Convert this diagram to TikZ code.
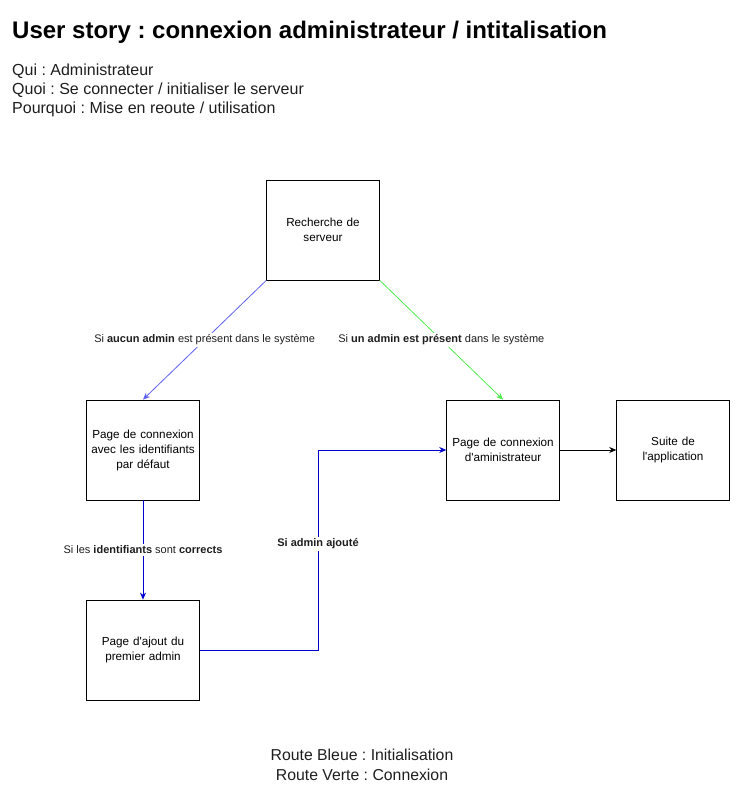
\documentclass[tikz,border=0pt]{standalone}
\usepackage{fontspec}
\setmainfont{Liberation Sans}[Ligatures=TeXOff]
\frenchspacing
\usetikzlibrary{arrows.meta,positioning}
\definecolor{routeclaire}{RGB}{96,96,240}
\definecolor{routeverte}{RGB}{80,235,80}
\definecolor{routebleue}{RGB}{0,0,204}
\definecolor{texte}{RGB}{30,30,30}
\tikzset{Story/.style = {% styles of the user story
     page/.style = {rectangle, draw, line width=0.8pt,
                    minimum width=110pt, minimum height=100pt,
                    text width=106pt, align=center,
                    font=\fontsize{11.7}{15}\selectfont},
    cond/.style  = {fill=white, inner sep=1.5pt, text=texte,
                    font=\fontsize{11}{13}\selectfont},
   arrow/.style  = {line width=0.8pt, -{Stealth[length=7pt,width=6pt]}},
    info/.style  = {anchor=north west, align=left, inner sep=0pt, text=texte,
                    font=\fontsize{16}{19}\selectfont}}
        }

\begin{document}
\begin{tikzpicture}[Story, x=1pt, y=-1pt]
\useasboundingbox (0,0) rectangle (739,794);

% texts
\node (titre) [anchor=west, inner sep=0pt, font=\bfseries\fontsize{24}{27}\selectfont]
      at (12,32) {User story : connexion administrateur / intitalisation};
\node (qui)   [info] at (12,64) {Qui : Administrateur\\Quoi : Se connecter / initialiser le serveur\\Pourquoi : Mise en reoute / utilisation};

% nodes
\node (serveur) [page] at (323,230) {Recherche de\\serveur};
\node (defaut)  [page] at (143,450) {Page de connexion\\avec les identifiants\\par défaut};
\node (login)   [page] at (503,450) {Page de connexion\\d'aministrateur};
\node (suite)   [page] at (673,450) {Suite de\\l'application};
\node (ajout)   [page] at (143,650) {Page d'ajout du\\premier admin};
\coordinate (coude) at (318,650);

% paths
\draw [arrow, routeclaire] (serveur.south west) -- (defaut.north)
      node[cond, pos=0.5] {Si \textbf{aucun admin} est présent dans le système};
\draw [arrow, routeverte]  (serveur.south east) -- (login.north)
      node[cond, pos=0.5] {Si \textbf{un admin est présent} dans le système};
\draw [arrow]              (login) -- (suite);
\draw [arrow, routebleue]  (defaut) -- (ajout)
      node[cond, midway] {Si les \textbf{identifiants} sont \textbf{corrects}};
\draw [arrow, routebleue]  (ajout.east) -- (coude) -- node[cond, pos=0.53] {\textbf{Si admin ajouté}} (coude |- login) -- (login.west);

% legend
\node (legende) [align=center, text=texte, font=\fontsize{15.8}{20}\selectfont]
      at (362,765) {Route Bleue : Initialisation\\Route Verte : Connexion};
\end{tikzpicture}
\end{document}
